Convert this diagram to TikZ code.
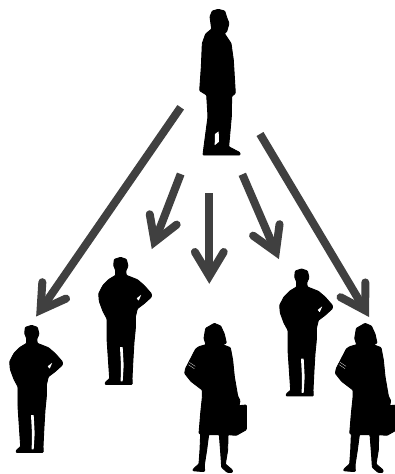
\documentclass[tikz,border=0pt]{standalone}
\usetikzlibrary{calc}
\definecolor{arrowgrey}{HTML}{404040}
\tikzset{
  figscope/.style={x=0.33333pt,y=-0.33333pt},
  silhouette/.style={fill=black,draw=black,line width=0.9pt,line join=round,rounded corners=0.8pt},
  gap/.style={fill=white,draw=none,rounded corners=0.4pt},
  frontman/.pic={
    \begin{scope}[figscope]
      \path[silhouette] (95,226)--(112,232)--(117,252)--(110,268)--(112,280)--(145,293)--(165,310)--(187,335)--(187,345)--(165,365)--(145,380)--(139,405)--(139,440)--(135,480)--(132,530)--(129,590)--(130,607)--(48,607)--(50,600)--(62,590)--(58,530)--(54,470)--(54,410)--(42,388)--(31,358)--(29,335)--(42,310)--(60,292)--(80,280)--(80,265)--(74,250)--(76,232)--cycle;
      \path[gap] (93,495)--(101,495)--(104,550)--(101,598)--(95,598)--(96,550)--cycle;
      \path[gap] (143,349)--(157,338)--(149,356)--cycle;
    \end{scope}
  },
  woman/.pic={
    \begin{scope}[figscope]
      \path[silhouette] (133,40)--(152,48)--(163,72)--(169,99)--(158,104)--(181,113)--(188,150)--(193,200)--(203,258)--(210,272)--(207,287)--(229,285)--(229,359)--(199,376)--(174,374)--(173,420)--(166,462)--(187,480)--(187,487)--(172,487)--(155,472)--(153,440)--(148,374)--(116,374)--(110,420)--(103,465)--(104,484)--(90,484)--(68,482)--(72,475)--(87,462)--(90,420)--(92,371)--(87,371)--(92,310)--(97,262)--(97,240)--(63,214)--(44,190)--(47,175)--(77,117)--(87,110)--(108,104)--(102,85)--(107,55)--cycle;
      \draw[white,line width=0.25pt] (58,157)--(76,169) (55,164)--(73,176);
    \end{scope}
  },
  sideman/.pic={
    \begin{scope}[figscope]
      \path[silhouette] (145,28)--(164,33)--(171,55)--(177,70)--(170,95)--(163,100)--(183,130)--(190,180)--(196,280)--(185,289)--(184,350)--(176,440)--(210,458)--(210,465)--(99,465)--(102,440)--(114,350)--(110,285)--(89,272)--(94,200)--(97,130)--(107,102)--(125,87)--(120,50)--(127,33)--cycle;
      \path[gap] (135,402)--(146,394)--(147,425)--(134,436)--cycle;
    \end{scope}
  },
  arrowline/.style={draw=arrowgrey,line width=8pt},
  arrowbarb/.style={draw=arrowgrey,line width=8pt,line cap=round,line join=miter,miter limit=10},
}
\newcommand{\longarrow}[2]{%
  \coordinate (v) at ($(#2)!8pt!(#1)$);
  \draw[arrowline] (#1) -- (v);
  \draw[arrowbarb] ($(v)!28pt!31:(#1)$) -- (v) -- ($(v)!28pt!-31:(#1)$);
}
\begin{document}
\begin{tikzpicture}[x=1pt,y=-1pt]
  \useasboundingbox (0,0) rectangle (394,474);
  \fill[white] (0,0) rectangle (394,474);
  \pic (boss) at (170,0) {sideman};
  \pic (manA) at (0,250) {frontman};
  \pic (manB) at (89,182) {frontman};
  \pic (manC) at (270,193.6) {frontman};
  \pic (womanA) at (170,310) {woman};
  \pic (womanB) at (320.7,310) {woman};
  \coordinate (s1) at (180.7,107.3); \coordinate (t1) at (36,316.7);
  \coordinate (s2) at (180.7,174);   \coordinate (t2) at (151.7,249.3);
  \coordinate (s3) at (209.3,193.3); \coordinate (t3) at (209.3,284);
  \coordinate (s4) at (242.3,174.3); \coordinate (t4) at (279,259.3);
  \coordinate (s5) at (260,134);     \coordinate (t5) at (369.3,317.3);
  \longarrow{s1}{t1}
  \longarrow{s2}{t2}
  \longarrow{s3}{t3}
  \longarrow{s4}{t4}
  \longarrow{s5}{t5}
\end{tikzpicture}
\end{document}
